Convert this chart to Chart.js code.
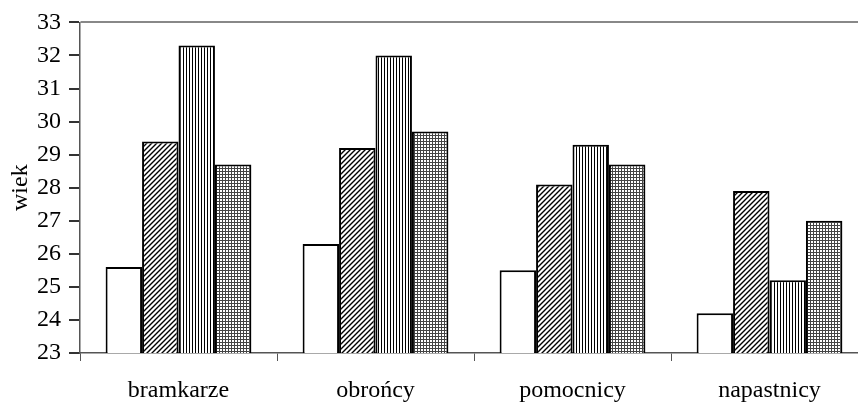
<!DOCTYPE html>
<html>
<head>
<meta charset="utf-8">
<script src="https://cdn.jsdelivr.net/npm/chart.js@4"></script>
<style>
    body { margin: 0; overflow: hidden; background: #fff; }
    #wrap { width: 870px; height: 403px; }
</style>
</head>
<body>
<div id="wrap"><canvas id="chart" width="870" height="403"></canvas></div>
<script>
let kategorie = ['bramkarze', 'obrońcy', 'pomocnicy', 'napastnicy'];
let seria1 = [25.6, 26.3, 25.5, 24.2];
let seria2 = [29.4, 29.2, 28.1, 27.9];
let seria3 = [32.3, 32.0, 29.3, 25.2];
let seria4 = [28.7, 29.7, 28.7, 27.0];
let yMin = 23
let yMax = 33

// patterns for the bar fills
function tile(w, h, draw) {
    let c = document.createElement('canvas');
    c.width = w;
    c.height = h;
    let g = c.getContext('2d');
    g.fillStyle = '#fff';
    g.fillRect(0, 0, w, h);
    draw(g);
    return document.getElementById('chart').getContext('2d').createPattern(c, 'repeat');
}

let ukosne = tile(5, 5, function (g) {
    g.strokeStyle = '#000';
    g.lineWidth = 1.4;
    g.beginPath();
    g.moveTo(-1, 6); g.lineTo(6, -1);
    g.moveTo(-1, 1); g.lineTo(1, -1);
    g.moveTo(4, 6); g.lineTo(6, 4);
    g.stroke();
});

let pionowe = tile(3, 3, function (g) {
    g.fillStyle = '#000';
    g.fillRect(0, 0, 1, 3);
});

let kratka = tile(3, 3, function (g) {
    g.fillStyle = '#444';
    g.fillRect(0, 0, 1, 3);
    g.fillRect(0, 0, 3, 1);
});

let font = { family: 'Liberation Serif', size: 24 };

let ctx = document.getElementById('chart');
let chart = new Chart(ctx, {
    type: 'bar',
    data: {
        labels: kategorie,
        datasets: [
            { data: seria1, backgroundColor: '#fff' },
            { data: seria2, backgroundColor: ukosne },
            { data: seria3, backgroundColor: pionowe },
            { data: seria4, backgroundColor: kratka }
        ]
    },
    options: {
        responsive: false,
        animation: false,
        layout: { padding: { top: 21, right: 2, left: 0, bottom: 0 } },
        datasets: {
            bar: {
                borderColor: '#000',
                borderWidth: 2,
                borderSkipped: 'bottom',
                categoryPercentage: 0.74,
                barPercentage: 1.0
            }
        },
        plugins: {
            legend: { display: false },
            tooltip: { enabled: false }
        },
        scales: {
            y: {
                min: yMin,
                max: yMax,
                afterFit: function (s) { s.width = 80; },
                ticks: {
                    stepSize: 1,
                    color: '#000',
                    padding: 8,
                    font: font
                },
                grid: {
                    color: function (c) { return c.tick && c.tick.value === yMax ? '#888' : 'rgba(0,0,0,0)'; },
                    tickColor: '#333',
                    tickLength: 11,
                    lineWidth: 2
                },
                border: { color: '#555', width: 1.5 },
                title: {
                    display: true,
                    text: 'wiek',
                    color: '#000',
                    padding: { top: 6, bottom: 0 },
                    font: font
                }
            },
            x: {
                afterFit: function (s) { s.height = 50; },
                ticks: {
                    color: '#000',
                    padding: 15,
                    font: font
                },
                grid: {
                    offset: true,
                    color: 'rgba(0,0,0,0)',
                    tickColor: '#555',
                    tickLength: 8
                },
                border: { color: '#555', width: 1.5 }
            }
        }
    }
});
</script>
</body>
</html>
